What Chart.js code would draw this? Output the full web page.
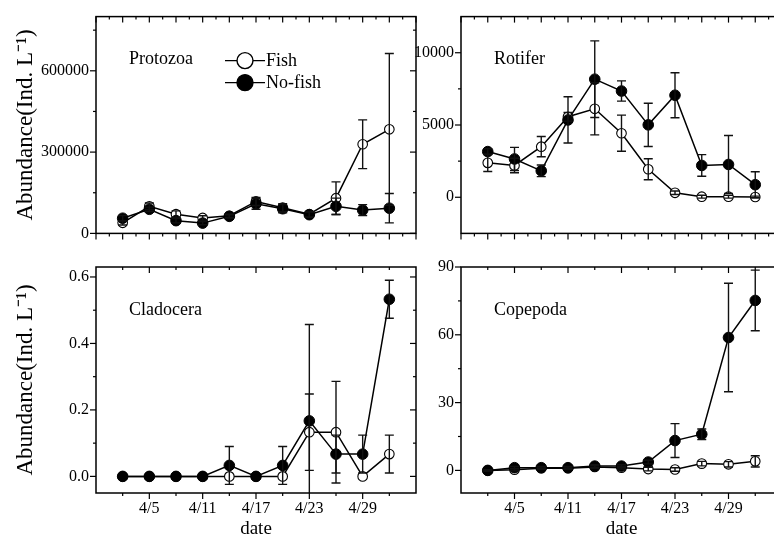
<!DOCTYPE html>
<html>
<head>
<meta charset="utf-8">
<script src="https://cdn.jsdelivr.net/npm/chart.js@4.4.0/dist/chart.umd.min.js"></script>
<style>
html, body { margin: 0; padding: 0; background: #fff; overflow: hidden; }
#wrap { position: relative; width: 774px; height: 537px; overflow: hidden; }
canvas { position: absolute; }
</style>
</head>
<body>
<div id="wrap">
  <canvas id="protozoa" width="420" height="250" style="left:0;top:0"></canvas>
  <canvas id="rotifer" width="382" height="250" style="left:400px;top:0"></canvas>
  <canvas id="cladocera" width="420" height="290" style="left:0;top:250px"></canvas>
  <canvas id="copepoda" width="382" height="290" style="left:400px;top:250px"></canvas>
</div>
<script>
// sampling days (4/2 ... 5/2, day number counted from 4/1)
const days = [2, 5, 8, 11, 14, 17, 20, 23, 26, 29, 32];
const dateTicks = [5, 11, 17, 23, 29];

const protozoaFish = [39000, 100000, 71000, 57000, 65000, 118000, 95000, 71000, 130000, 329000, 384000];
const protozoaFishErr = [8000, 12000, 12000, 8000, 6000, 15000, 15000, 10000, 60000, 90000, 280000];
const protozoaNoFish = [56000, 89000, 47000, 38000, 63000, 109000, 91000, 69000, 100000, 86000, 93000];
const protozoaNoFishErr = [10000, 8000, 8000, 6000, 6000, 20000, 15000, 10000, 30000, 20000, 54000];

const rotiferFish = [2380, 2200, 3500, 5570, 6120, 4430, 1940, 310, 40, 40, 20];
const rotiferFishErr = [600, 500, 700, 300, 1800, 1250, 730, 120, 100, 100, 60];
const rotiferNoFish = [3160, 2650, 1830, 5350, 8170, 7350, 5010, 7060, 2200, 2270, 870];
const rotiferNoFishErr = [200, 800, 400, 1600, 2650, 700, 1500, 1560, 750, 2000, 900];

const cladoFish = [0, 0, 0, 0, 0, 0, 0, 0.133, 0.133, 0, 0.067];
const cladoFishErr = [0, 0, 0, 0, 0, 0, 0, 0.115, 0.153, 0, 0.057];
const cladoNoFish = [0, 0, 0, 0, 0.033, 0, 0.033, 0.167, 0.067, 0.067, 0.533];
const cladoNoFishErr = [0, 0, 0, 0, 0.057, 0, 0.057, 0.29, 0.057, 0.057, 0.057];

const copeFish = [0, 0.3, 1.0, 1.0, 1.5, 1.2, 0.6, 0.4, 3.0, 2.7, 4.0];
const copeFishErr = [0.3, 0.5, 0.5, 0.5, 0.6, 0.6, 0.8, 0.8, 1.0, 1.2, 2.5];
const copeNoFish = [0, 1.2, 1.2, 1.2, 1.9, 1.9, 3.7, 13.2, 16.0, 58.8, 75.2];
const copeNoFishErr = [0.3, 0.5, 0.5, 0.5, 0.6, 0.6, 0.8, 7.5, 2.3, 24, 13.4];

const FONT = "'Liberation Serif', 'Times New Roman', serif";
Chart.defaults.font.family = FONT;
Chart.defaults.color = '#000';

// frame, origin-style ticks, error bars, panel name and legend
function decor(cfg) {
  return {
    id: 'decor',
    afterDatasetsDraw(chart) {
      const {ctx, chartArea: a, scales: {x, y}} = chart;
      ctx.save();
      ctx.beginPath();
      ctx.rect(a.left, a.top, a.right - a.left, a.bottom - a.top);
      ctx.clip();
      ctx.strokeStyle = '#111';
      ctx.lineWidth = 1.4;
      cfg.errors.forEach((errs, i) => {
        chart.data.datasets[i].data.forEach((p, j) => {
          const e = errs[j];
          if (!e) return;
          const px = x.getPixelForValue(p.x);
          const y1 = y.getPixelForValue(p.y + e);
          const y2 = y.getPixelForValue(p.y - e);
          ctx.beginPath();
          ctx.moveTo(px, y1); ctx.lineTo(px, y2);
          ctx.moveTo(px - 4.5, y1); ctx.lineTo(px + 4.5, y1);
          ctx.moveTo(px - 4.5, y2); ctx.lineTo(px + 4.5, y2);
          ctx.stroke();
        });
      });
      ctx.restore();

      ctx.save();
      ctx.strokeStyle = '#000';
      ctx.lineWidth = 1.5;
      ctx.strokeRect(a.left, a.top, a.right - a.left, a.bottom - a.top);
      ctx.lineWidth = 1.2;
      const line = (x1, y1, x2, y2) => {
        ctx.beginPath(); ctx.moveTo(x1, y1); ctx.lineTo(x2, y2); ctx.stroke();
      };
      const xt = (vals, len) => vals.forEach(v => {
        const px = x.getPixelForValue(v);
        line(px, a.bottom, px, a.bottom + len);
        line(px, a.top, px, a.top + len);
      });
      const yt = (vals, len) => vals.forEach(v => {
        const py = y.getPixelForValue(v);
        line(a.left - len, py, a.left, py);
        line(a.right - len, py, a.right, py);
      });
      xt(cfg.xMajor, 6); xt(cfg.xMinor, 3);
      yt(cfg.yMajor, 6); yt(cfg.yMinor, 3);

      ctx.fillStyle = '#000';
      ctx.font = '18px ' + FONT;
      ctx.textBaseline = 'middle';
      ctx.textAlign = 'left';
      ctx.fillText(cfg.name, a.left + 33, a.top + 43);

      if (cfg.legend) {
        [['Fish', '#fff', 44], ['No-fish', '#000', 66]].forEach(([txt, fill, dy]) => {
          const ly = a.top + dy;
          ctx.lineWidth = 1.4;
          line(a.left + 129, ly, a.left + 169, ly);
          ctx.beginPath();
          ctx.arc(a.left + 149, ly, 8, 0, Math.PI * 2);
          ctx.fillStyle = fill;
          ctx.fill();
          ctx.stroke();
          ctx.fillStyle = '#000';
          ctx.fillText(txt, a.left + 170, ly + 1);
        });
      }
      ctx.restore();
    }
  };
}

const topXMajor = [-1, 2, 5, 8, 11, 14, 17, 20, 23, 26, 29, 32, 35];
const topXMinor = topXMajor.map(v => v + 1.5);
const botXMajor = dateTicks;
const botXMinor = [2, 8, 14, 20, 26, 32];

function panel(id, fish, fishErr, noFish, noFishErr, o) {
  new Chart(document.getElementById(id), {
    type: 'line',
    data: {
      datasets: [
        {
          label: 'Fish',
          data: days.map((d, i) => ({x: d, y: fish[i]})),
          borderColor: '#000', borderWidth: 1.5, tension: 0,
          pointRadius: 4.8, pointBackgroundColor: '#fff', pointBorderColor: '#000', pointBorderWidth: 1.1,
          order: 1
        },
        {
          label: 'No-fish',
          data: days.map((d, i) => ({x: d, y: noFish[i]})),
          borderColor: '#000', borderWidth: 1.5, tension: 0,
          pointRadius: 5.3, pointBackgroundColor: '#000', pointBorderColor: '#000', pointBorderWidth: 1,
          order: 0
        }
      ]
    },
    options: {
      responsive: false,
      animation: false,
      events: [],
      layout: {autoPadding: false, padding: {top: o.padTop, right: o.padRight, left: 0, bottom: 0}},
      plugins: {legend: {display: false}, tooltip: {enabled: false}},
      scales: {
        x: {
          type: 'linear', min: -1, max: 35,
          grid: {display: false, drawTicks: false},
          border: {display: false},
          afterBuildTicks: s => { s.ticks = dateTicks.map(v => ({value: v})); },
          ticks: {display: o.bottom, autoSkip: false, maxRotation: 0, padding: 6,
                  font: {size: 16}, callback: v => '4/' + v},
          title: {display: o.bottom, text: 'date', font: {size: 19}, padding: {top: 0, bottom: 0}},
          afterFit: s => { s.height = o.xHeight; s.paddingLeft = 0; s.paddingRight = 0; }
        },
        y: {
          type: 'linear', min: o.yMin, max: o.yMax,
          grid: {display: false, drawTicks: false},
          border: {display: false},
          afterBuildTicks: s => { s.ticks = o.yMajor.map(v => ({value: v})); },
          ticks: {autoSkip: false, padding: 7, font: {size: 16}, callback: o.fmt},
          title: {display: o.left, text: 'Abundance(Ind. L\u207B\u00B9)', font: {size: 23}, padding: {top: 12, bottom: 0}},
          afterFit: s => { s.width = o.yWidth; }
        }
      }
    },
    plugins: [decor({
      name: o.name, legend: o.legend,
      errors: [fishErr, noFishErr],
      xMajor: o.bottom ? botXMajor : topXMajor,
      xMinor: o.bottom ? botXMinor : topXMinor,
      yMajor: o.yMajor, yMinor: o.yMinor
    })]
  });
}

panel('protozoa', protozoaFish, protozoaFishErr, protozoaNoFish, protozoaNoFishErr, {
  name: 'Protozoa', legend: true, left: true, bottom: false,
  padTop: 10, padRight: 4, xHeight: 15, yWidth: 96,
  yMin: 0, yMax: 800000, yMajor: [0, 300000, 600000], yMinor: [150000, 450000, 750000],
  fmt: v => String(v)
});
panel('rotifer', rotiferFish, rotiferFishErr, rotiferNoFish, rotiferNoFishErr, {
  name: 'Rotifer', legend: false, left: false, bottom: false,
  padTop: 10, padRight: 0, xHeight: 15, yWidth: 61,
  yMin: -2500, yMax: 12500, yMajor: [0, 5000, 10000], yMinor: [2500, 7500],
  fmt: v => String(v)
});
panel('cladocera', cladoFish, cladoFishErr, cladoNoFish, cladoNoFishErr, {
  name: 'Cladocera', legend: false, left: true, bottom: true,
  padTop: 17, padRight: 4, xHeight: 47, yWidth: 96,
  yMin: -0.05, yMax: 0.63, yMajor: [0, 0.2, 0.4, 0.6], yMinor: [0.1, 0.3, 0.5],
  fmt: v => v.toFixed(1)
});
panel('copepoda', copeFish, copeFishErr, copeNoFish, copeNoFishErr, {
  name: 'Copepoda', legend: false, left: false, bottom: true,
  padTop: 17, padRight: 0, xHeight: 47, yWidth: 61,
  yMin: -10, yMax: 90, yMajor: [0, 30, 60, 90], yMinor: [15, 45, 75],
  fmt: v => String(v)
});
</script>
</body>
</html>
